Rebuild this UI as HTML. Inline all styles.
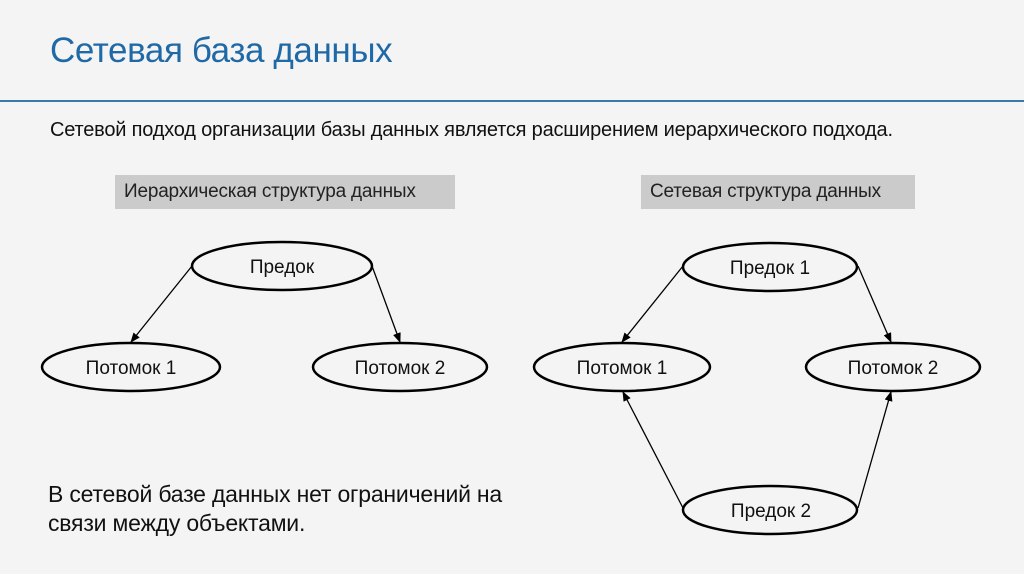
<!DOCTYPE html>
<html><head><meta charset="utf-8"><style>
body{margin:0;width:1024px;height:574px;background:#f4f4f4;position:relative;overflow:hidden;font-family:"Liberation Sans",sans-serif}
.t{position:absolute;white-space:nowrap}
</style></head><body>
<div class="t" style="left:50px;top:31px;font-size:35px;color:#1f69a6;letter-spacing:-0.4px">Сетевая база данных</div>
<div style="position:absolute;left:0;top:100px;width:1024px;height:2px;background:#3a78a8"></div>
<div class="t" style="left:50px;top:119px;font-size:20px;color:#111;letter-spacing:-0.2px">Сетевой подход организации базы данных является расширением иерархического подхода.</div>
<div class="t" style="left:115px;top:175px;width:340px;height:34px;background:#cbcbcb;font-size:19px;color:#222;line-height:34px;padding-left:9px;box-sizing:border-box;letter-spacing:-0.2px">Иерархическая структура данных</div>
<div class="t" style="left:641px;top:175px;width:274px;height:34px;background:#cbcbcb;font-size:19px;color:#222;line-height:34px;padding-left:9px;box-sizing:border-box;letter-spacing:-0.2px">Сетевая структура данных</div>
<div class="t" style="left:48px;top:480px;font-size:23px;color:#111;line-height:29px;letter-spacing:-0.2px">В сетевой базе данных нет ограничений на<br>связи между объектами.</div>
<svg width="1024" height="574" style="position:absolute;left:0;top:0">
<defs><marker id="a" markerWidth="10" markerHeight="8" refX="9" refY="4" orient="auto" markerUnits="userSpaceOnUse"><path d="M0,0L10,4L0,8Z" fill="#000"/></marker></defs>
<g fill="none" stroke="#000" stroke-width="2.5">
<ellipse cx="282" cy="266" rx="90" ry="24"/>
<ellipse cx="131" cy="367" rx="89" ry="24"/>
<ellipse cx="400" cy="367" rx="87" ry="24"/>
<ellipse cx="770" cy="267" rx="87" ry="24"/>
<ellipse cx="622" cy="367" rx="88" ry="24"/>
<ellipse cx="893" cy="367" rx="87" ry="24"/>
<ellipse cx="770" cy="510" rx="87" ry="24"/>
</g>
<g stroke="#000" stroke-width="1.3" marker-end="url(#a)">
<line x1="192" y1="266" x2="131" y2="342"/>
<line x1="372" y1="266" x2="400" y2="342"/>
<line x1="683" y1="266" x2="622" y2="342"/>
<line x1="858" y1="266" x2="891" y2="342"/>
<line x1="683" y1="508" x2="623" y2="392"/>
<line x1="858" y1="508" x2="891" y2="392"/>
</g>
<g font-family="Liberation Sans, sans-serif" font-size="19" fill="#111" text-anchor="middle">
<text x="282" y="273">Предок</text>
<text x="131" y="374">Потомок 1</text>
<text x="400" y="374">Потомок 2</text>
<text x="770" y="274">Предок 1</text>
<text x="622" y="374">Потомок 1</text>
<text x="893" y="374">Потомок 2</text>
<text x="771" y="517">Предок 2</text>
</g>
</svg>
</body></html>
